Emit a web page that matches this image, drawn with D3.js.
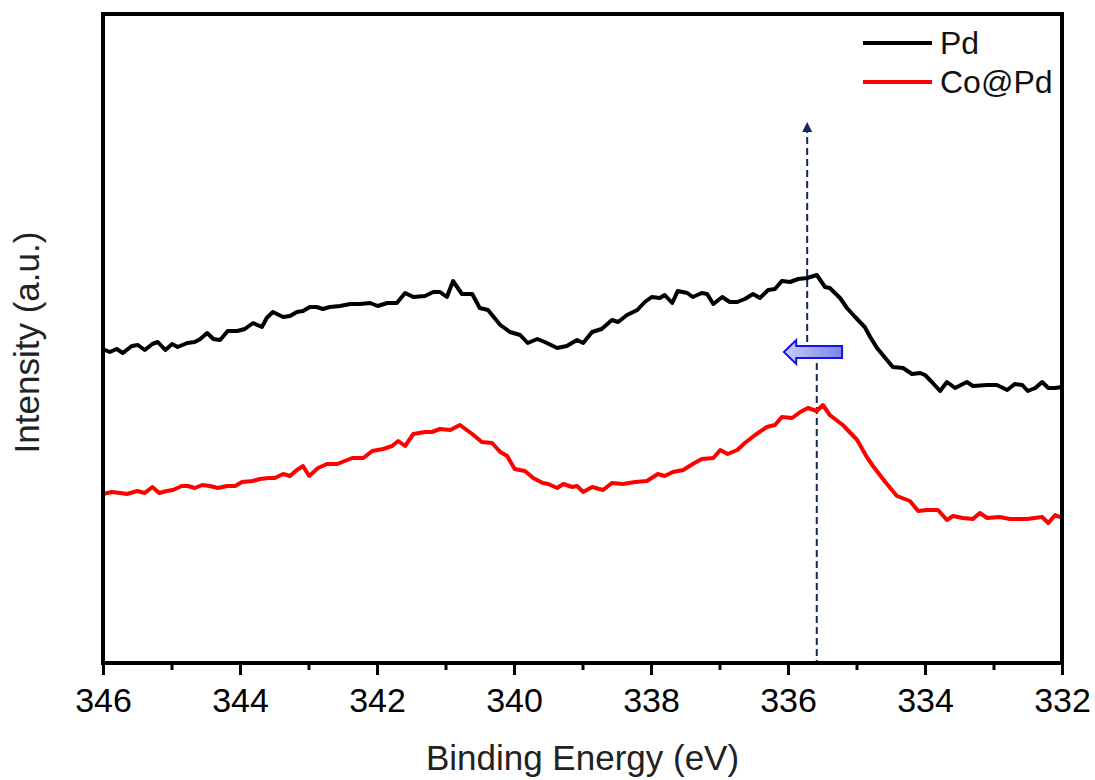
<!DOCTYPE html>
<html>
<head>
<meta charset="utf-8">
<script src="https://cdn.jsdelivr.net/npm/d3@7"></script>
<style>
  body { margin: 0; background: #fff; }
  svg { font-family: "Liberation Sans", Arial, sans-serif; }
</style>
</head>
<body>
<div id="chart"></div>
<script>
// binding energy (eV) and intensity (a.u.)
const pdEnergy = [346.00,345.97,345.90,345.80,345.71,345.58,345.49,345.39,345.28,345.20,345.09,344.99,344.91,344.77,344.66,344.58,344.48,344.39,344.29,344.18,344.04,343.93,343.81,343.68,343.61,343.52,343.37,343.27,343.17,343.08,342.98,342.88,342.79,342.69,342.54,342.39,342.25,342.10,341.99,341.85,341.71,341.59,341.47,341.30,341.18,341.08,340.98,340.89,340.76,340.61,340.50,340.38,340.20,340.06,339.91,339.80,339.66,339.55,339.37,339.23,339.08,338.99,338.86,338.72,338.57,338.48,338.35,338.20,338.09,337.99,337.87,337.80,337.69,337.61,337.47,337.39,337.26,337.18,337.09,336.96,336.85,336.74,336.63,336.51,336.41,336.29,336.19,336.09,335.97,335.85,335.72,335.58,335.46,335.39,335.24,335.14,335.02,334.88,334.80,334.70,334.58,334.47,334.32,334.19,334.07,334.00,333.90,333.78,333.68,333.56,333.39,333.30,333.09,332.95,332.80,332.69,332.58,332.50,332.39,332.29,332.20,332.10,332.00];
const pdIntensity = [314,313,311,314,310,317,318,313,319,321,313,319,316,320,321,324,330,324,323,332,332,334,340,336,345,351,346,347,351,352,356,356,354,356,357,359,359,360,357,360,360,370,366,367,371,371,366,382,369,369,355,353,338,331,328,320,324,321,315,317,323,320,331,334,343,341,348,353,361,366,365,368,360,372,370,366,370,369,359,366,361,361,364,369,365,373,374,382,381,384,385,388,376,375,365,355,346,336,326,315,305,296,295,289,290,288,281,272,281,275,281,277,278,278,273,279,278,272,275,281,275,275,276];

const copdEnergy = [346.00,345.87,345.75,345.65,345.50,345.39,345.28,345.18,345.07,344.98,344.85,344.76,344.66,344.55,344.44,344.32,344.19,344.07,343.97,343.82,343.71,343.59,343.49,343.37,343.27,343.17,343.08,342.99,342.86,342.73,342.58,342.47,342.36,342.20,342.07,341.91,341.78,341.69,341.59,341.47,341.30,341.20,341.08,340.93,340.79,340.61,340.47,340.32,340.20,340.10,339.99,339.84,339.72,339.58,339.50,339.37,339.28,339.15,339.08,338.99,338.86,338.70,338.57,338.41,338.23,338.06,337.90,337.80,337.68,337.53,337.39,337.26,337.09,336.99,336.88,336.74,336.63,336.48,336.31,336.19,336.09,335.94,335.82,335.71,335.58,335.49,335.39,335.20,334.99,334.85,334.76,334.58,334.41,334.22,334.10,333.97,333.81,333.68,333.59,333.45,333.30,333.20,333.09,332.91,332.76,332.51,332.29,332.20,332.10,332.00];
const copdIntensity = [169,171,170,169,172,170,176,170,172,173,177,177,175,178,177,175,177,177,181,182,184,185,185,189,187,193,197,187,195,199,199,202,205,205,212,214,217,222,217,229,231,231,234,233,238,229,221,220,211,207,194,192,185,180,179,175,179,176,177,171,176,173,180,179,181,182,189,187,191,193,199,204,205,213,209,213,220,228,236,238,246,245,251,255,252,258,248,238,223,206,197,181,167,162,152,153,153,143,147,145,144,150,145,146,144,144,146,140,148,145];

const seriesNames = ["Pd", "Co@Pd"];
const seriesColors = ["#000000", "#ff0000"];

const majorTicks = [346, 344, 342, 340, 338, 336, 334, 332];
const minorTicks = [345, 343, 341, 339, 337, 335, 333];

// peak positions marked by the dashed guides
const peakPd = 335.72;
const peakCoPd = 335.58;

const width = 1095, height = 780;
const margin = { top: 14, right: 33, bottom: 117, left: 103 };
const innerW = width - margin.left - margin.right;
const innerH = height - margin.top - margin.bottom;

const svg = d3.select('#chart').append('svg')
    .attr('width', width)
    .attr('height', height);

const x = d3.scaleLinear().domain([346, 332]).range([0, innerW]);
const y = d3.scaleLinear().domain([0, 649]).range([innerH, 0]);

const defs = svg.append('defs');
defs.append('marker')
    .attr('id', 'head')
    .attr('viewBox', '0 0 10 10')
    .attr('refX', 5).attr('refY', 5)
    .attr('markerWidth', 5).attr('markerHeight', 6)
    .attr('orient', 'auto')
    .attr('markerUnits', 'strokeWidth')
  .append('path')
    .attr('d', 'M0,0 L10,5 L0,10 Z')
    .attr('fill', '#14285a');

const grad = defs.append('linearGradient')
    .attr('id', 'arrowFill')
    .attr('x1', '0%').attr('x2', '100%').attr('y1', '0%').attr('y2', '0%');
grad.append('stop').attr('offset', '0%').attr('stop-color', '#c9ccf8');
grad.append('stop').attr('offset', '100%').attr('stop-color', '#7c84ea');

const g = svg.append('g')
    .attr('transform', 'translate(' + margin.left + ',' + margin.top + ')');

// dashed guide lines
g.append('line')
    .attr('x1', x(peakPd)).attr('x2', x(peakPd))
    .attr('y1', y(321)).attr('y2', y(536))
    .attr('stroke', '#14285a')
    .attr('stroke-width', 2)
    .attr('stroke-dasharray', '7,4')
    .attr('marker-end', 'url(#head)');

g.append('line')
    .attr('x1', x(peakCoPd)).attr('x2', x(peakCoPd))
    .attr('y1', y(300)).attr('y2', y(0))
    .attr('stroke', '#14285a')
    .attr('stroke-width', 2)
    .attr('stroke-dasharray', '7,4');

// block arrow pointing toward higher binding energy
const ax0 = x(336.06), ax1 = x(335.88), ax2 = x(335.21);
const ay = y(311);
g.append('path')
    .attr('d', `M${ax0},${ay} L${ax1},${ay - 12} L${ax1},${ay - 6} L${ax2},${ay - 6} L${ax2},${ay + 6} L${ax1},${ay + 6} L${ax1},${ay + 12} Z`)
    .attr('fill', 'url(#arrowFill)')
    .attr('stroke', '#1414e6')
    .attr('stroke-width', 2)
    .attr('stroke-linejoin', 'miter');

// spectra
const line = d3.line()
    .x(d => x(d[0]))
    .y(d => y(d[1]));

const series = [
    d3.zip(pdEnergy, pdIntensity),
    d3.zip(copdEnergy, copdIntensity)
];

g.selectAll('.spectrum')
    .data(series)
    .enter()
    .append('path')
    .attr('class', 'spectrum')
    .attr('d', line)
    .attr('fill', 'none')
    .attr('stroke', (d, i) => seriesColors[i])
    .attr('stroke-width', 4)
    .attr('stroke-linejoin', 'round');

// x axis
const xAxis = g.append('g')
    .attr('transform', 'translate(0,' + innerH + ')')
    .call(d3.axisBottom(x).tickValues(majorTicks).tickSize(12).tickSizeOuter(0).tickFormat(d3.format('d')));
xAxis.select('.domain').remove();
xAxis.selectAll('.tick line').attr('stroke', '#000').attr('stroke-width', 3);
xAxis.selectAll('.tick text')
    .attr('y', 0)
    .attr('dy', 49)
    .attr('font-size', 34)
    .attr('fill', '#000')
    .attr('font-family', '"Liberation Sans", Arial, sans-serif');

const xMinor = g.append('g')
    .attr('transform', 'translate(0,' + innerH + ')')
    .call(d3.axisBottom(x).tickValues(minorTicks).tickSize(7).tickSizeOuter(0).tickFormat(''));
xMinor.select('.domain').remove();
xMinor.selectAll('.tick line').attr('stroke', '#000').attr('stroke-width', 3);

// frame
g.append('rect')
    .attr('x', 0).attr('y', 0)
    .attr('width', innerW).attr('height', innerH)
    .attr('fill', 'none')
    .attr('stroke', '#000')
    .attr('stroke-width', 4);

// axis titles
svg.append('text')
    .attr('x', margin.left + innerW / 2)
    .attr('y', 770)
    .attr('text-anchor', 'middle')
    .attr('font-size', 35)
    .attr('fill', '#222')
    .text('Binding Energy (eV)');

svg.append('text')
    .attr('transform', 'translate(39,' + (margin.top + innerH / 2 + 4) + ') rotate(-90)')
    .attr('text-anchor', 'middle')
    .attr('font-size', 35)
    .attr('fill', '#222')
    .text('Intensity (a.u.)');

// legend
const legend = g.append('g')
    .attr('transform', 'translate(' + (863 - margin.left) + ',' + (43 - margin.top) + ')');

seriesNames.forEach((name, i) => {
    const row = legend.append('g').attr('transform', 'translate(0,' + i * 39 + ')');
    row.append('line')
        .attr('x1', 0).attr('x2', 69)
        .attr('stroke', seriesColors[i])
        .attr('stroke-width', 4);
    row.append('text')
        .attr('x', 77)
        .attr('y', 11)
        .attr('font-size', 32)
        .attr('fill', '#111')
        .text(name);
});
</script>
</body>
</html>
